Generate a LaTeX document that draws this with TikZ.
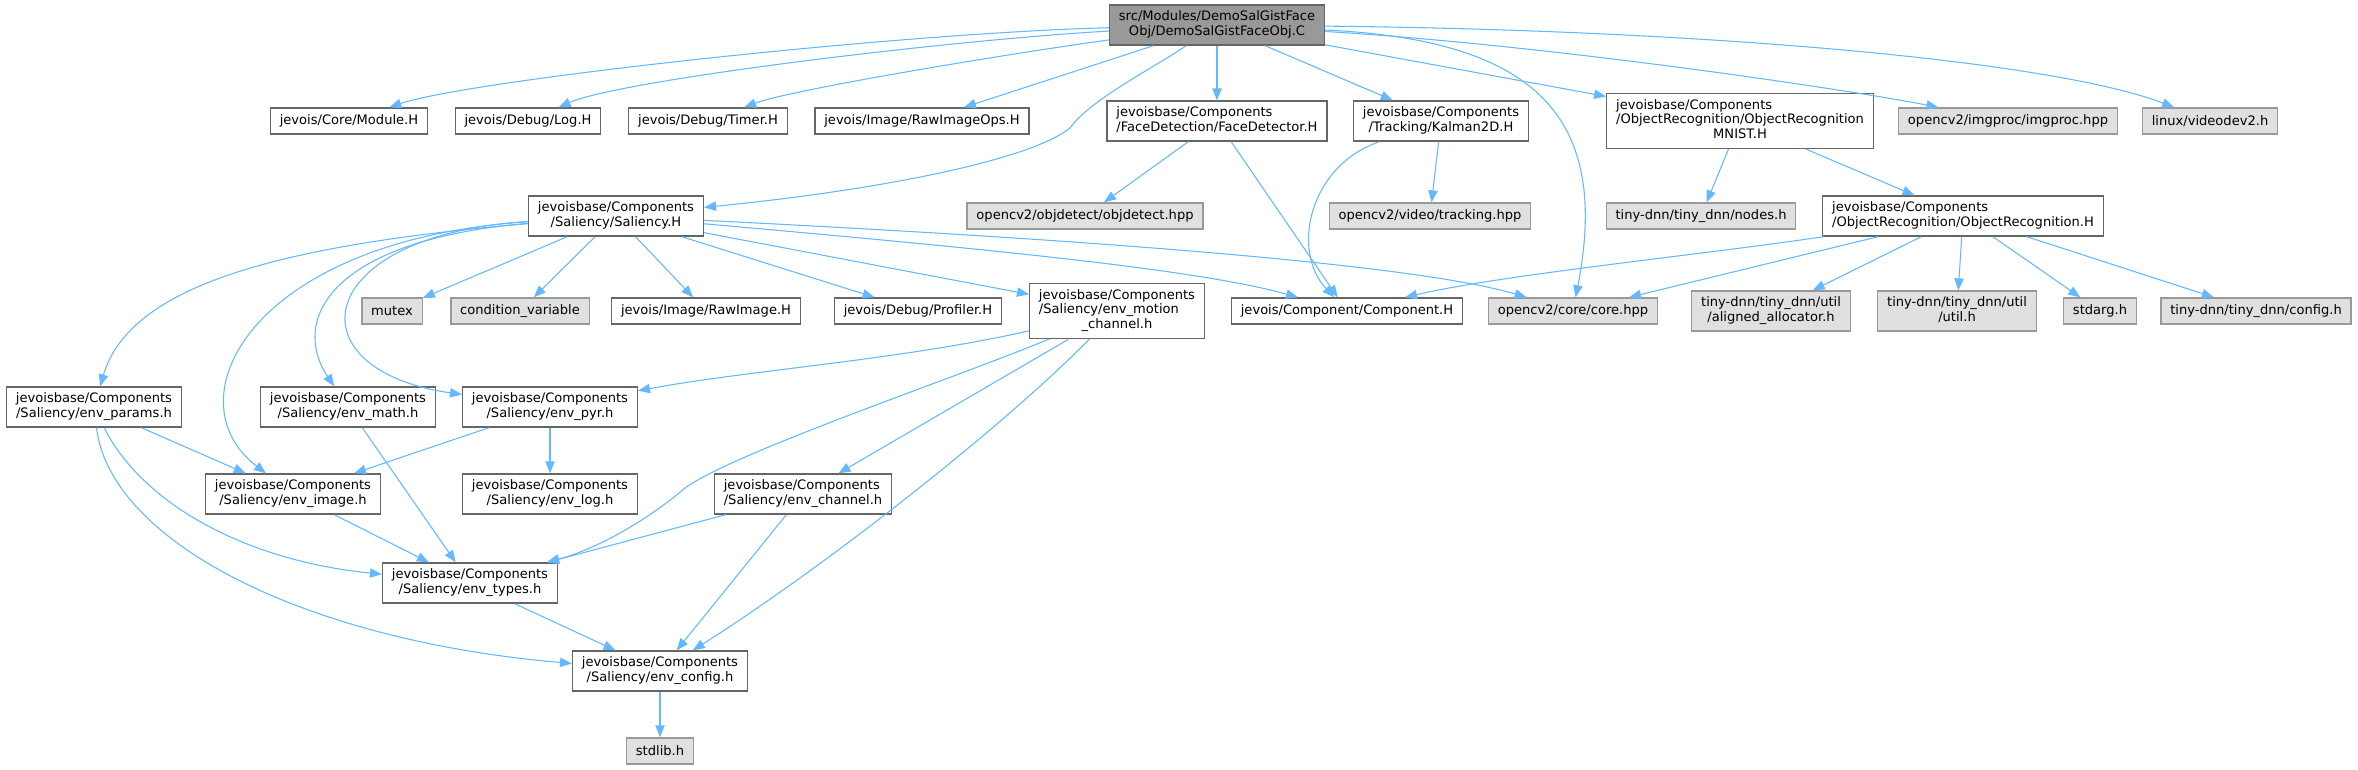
\documentclass[tikz,border=0pt]{standalone}
\usepackage{fontspec}
\setmainfont{DejaVu Sans}
\usetikzlibrary{arrows.meta}
\definecolor{edgeblue}{HTML}{63B8FF}
\definecolor{boxline}{HTML}{666666}
\definecolor{sysline}{HTML}{999999}
\definecolor{sysfill}{HTML}{E0E0E0}
\definecolor{rootfill}{HTML}{999999}
\newcommand{\twolines}[2]{\begin{tabular}{@{}l@{}}#1\\\multicolumn{1}{@{}c@{}}{#2}\end{tabular}}
\newcommand{\threelines}[3]{\begin{tabular}{@{}l@{}}#1\\#2\\\multicolumn{1}{@{}c@{}}{#3}\end{tabular}}

\begin{document}
\begin{tikzpicture}[x=0.75pt,y=-0.75pt,
        filebox/.style={draw=boxline,fill=white,line width=1pt,inner xsep=7pt,inner ysep=4pt,minimum height=19.5pt,font=\fontsize{9.8pt}{11pt}\selectfont},
        sysbox/.style={filebox,draw=sysline,fill=sysfill},
        rootbox/.style={filebox,fill=rootfill},
        dep/.style={draw=edgeblue,line width=0.8pt,-{Triangle[length=9pt,width=7pt]}}]
            \useasboundingbox (0,0) rectangle (2358,769);
            \node[rootbox] (root) at (1217,25) {\twolines{src/Modules/DemoSalGistFace}{Obj/DemoSalGistFaceObj.C}};
            \node[filebox] (modH) at (349,121) {jevois/Core/Module.H};
            \node[filebox] (logH) at (528,121) {jevois/Debug/Log.H};
            \node[filebox] (timerH) at (708,121) {jevois/Debug/Timer.H};
            \node[filebox] (rawopsH) at (922,121) {jevois/Image/RawImageOps.H};
            \node[filebox] (faceH) at (1217,121) {\twolines{jevoisbase/Components}{/FaceDetection/FaceDetector.H}};
            \node[filebox] (kalmanH) at (1441,121) {\twolines{jevoisbase/Components}{/Tracking/Kalman2D.H}};
            \node[filebox] (mnistH) at (1740,121) {\threelines{jevoisbase/Components}{/ObjectRecognition/ObjectRecognition}{MNIST.H}};
            \node[sysbox] (imgproc) at (2008,121) {opencv2/imgproc/imgproc.hpp};
            \node[sysbox] (videodev) at (2210,121) {linux/videodev2.h};
            \node[filebox] (salH) at (616,216) {\twolines{jevoisbase/Components}{/Saliency/Saliency.H}};
            \node[sysbox] (objdetect) at (1085,216) {opencv2/objdetect/objdetect.hpp};
            \node[sysbox] (tracking) at (1430,216) {opencv2/video/tracking.hpp};
            \node[sysbox] (nodesh) at (1701,216) {tiny-dnn/tiny\_dnn/nodes.h};
            \node[filebox] (objrecH) at (1963,216) {\twolines{jevoisbase/Components}{/ObjectRecognition/ObjectRecognition.H}};
            \node[sysbox] (mutex) at (392,311) {mutex};
            \node[sysbox] (condvar) at (520,311) {condition\_variable};
            \node[filebox] (rawimgH) at (706,311) {jevois/Image/RawImage.H};
            \node[filebox] (profH) at (918,311) {jevois/Debug/Profiler.H};
            \node[filebox] (motionh) at (1117,311) {\threelines{jevoisbase/Components}{/Saliency/env\_motion}{\_channel.h}};
            \node[filebox] (compH) at (1347,311) {jevois/Component/Component.H};
            \node[sysbox] (corehpp) at (1573,311) {opencv2/core/core.hpp};
            \node[sysbox] (alloch) at (1771,311) {\twolines{tiny-dnn/tiny\_dnn/util}{/aligned\_allocator.h}};
            \node[sysbox] (utilh) at (1957,311) {\twolines{tiny-dnn/tiny\_dnn/util}{/util.h}};
            \node[sysbox] (stdargh) at (2100,311) {stdarg.h};
            \node[sysbox] (confh) at (2256,311) {tiny-dnn/tiny\_dnn/config.h};
            \node[filebox] (paramsh) at (94,407) {\twolines{jevoisbase/Components}{/Saliency/env\_params.h}};
            \node[filebox] (mathh) at (348,407) {\twolines{jevoisbase/Components}{/Saliency/env\_math.h}};
            \node[filebox] (pyrh) at (550,407) {\twolines{jevoisbase/Components}{/Saliency/env\_pyr.h}};
            \node[filebox] (imageh) at (293,494) {\twolines{jevoisbase/Components}{/Saliency/env\_image.h}};
            \node[filebox] (logh) at (550,494) {\twolines{jevoisbase/Components}{/Saliency/env\_log.h}};
            \node[filebox] (chanh) at (803,494) {\twolines{jevoisbase/Components}{/Saliency/env\_channel.h}};
            \node[filebox] (typesh) at (470,583) {\twolines{jevoisbase/Components}{/Saliency/env\_types.h}};
            \node[filebox] (configh) at (660,671) {\twolines{jevoisbase/Components}{/Saliency/env\_config.h}};
            \node[sysbox] (stdlibh) at (660,751) {stdlib.h};
            \draw[dep] (root) .. controls (900,33) and (470,80) .. (modH);
            \draw[dep] (root) .. controls (950,40) and (620,80) .. (logH);
            \draw[dep] (root) .. controls (1000,55) and (790,90) .. (timerH);
            \draw[dep] (root) -- (rawopsH);
            \draw[dep] (root) .. controls (1150,70) and (1090,100) .. (1070,128) .. controls (1030,160) and (880,190) .. (salH);
            \draw[dep] (root) -- (faceH);
            \draw[dep] (root) -- (kalmanH);
            \draw[dep] (root) -- (mnistH);
            \draw[dep] (root) .. controls (1540,40) and (1610,120) .. (corehpp);
            \draw[dep] (root) .. controls (1550,45) and (1850,90) .. (imgproc);
            \draw[dep] (root) .. controls (1700,30) and (2050,60) .. (videodev);
            \draw[dep] (faceH) -- (objdetect);
            \draw[dep] (faceH) -- (compH);
            \draw[dep] (kalmanH) -- (tracking);
            \draw[dep] (kalmanH) .. controls (1310,165) and (1290,250) .. (compH);
            \draw[dep] (mnistH) -- (nodesh);
            \draw[dep] (mnistH) -- (objrecH);
            \draw[dep] (objrecH) .. controls (1700,255) and (1500,275) .. (compH);
            \draw[dep] (objrecH) -- (corehpp);
            \draw[dep] (objrecH) -- (alloch);
            \draw[dep] (objrecH) -- (utilh);
            \draw[dep] (objrecH) -- (stdargh);
            \draw[dep] (objrecH) -- (confh);
            \draw[dep] (salH) .. controls (280,245) and (130,285) .. (paramsh);
            \draw[dep] (salH) .. controls (250,240) and (170,400) .. (imageh);
            \draw[dep] (salH) .. controls (330,240) and (290,320) .. (mathh);
            \draw[dep] (salH) .. controls (310,235) and (290,370) .. (pyrh);
            \draw[dep] (salH) -- (mutex);
            \draw[dep] (salH) -- (condvar);
            \draw[dep] (salH) -- (rawimgH);
            \draw[dep] (salH) -- (profH);
            \draw[dep] (salH) -- (motionh);
            \draw[dep] (salH) .. controls (1000,250) and (1200,270) .. (compH);
            \draw[dep] (salH) .. controls (1000,235) and (1400,260) .. (corehpp);
            \draw[dep] (motionh) .. controls (900,360) and (750,370) .. (pyrh);
            \draw[dep] (motionh) .. controls (950,380) and (735,452) .. (685,488) .. controls (650,518) and (600,548) .. (typesh);
            \draw[dep] (motionh) -- (chanh);
            \draw[dep] (motionh) .. controls (1000,430) and (820,570) .. (configh);
            \draw[dep] (paramsh) -- (imageh);
            \draw[dep] (paramsh) .. controls (140,500) and (240,560) .. (typesh);
            \draw[dep] (paramsh) .. controls (110,540) and (300,640) .. (configh);
            \draw[dep] (mathh) -- (typesh);
            \draw[dep] (pyrh) -- (imageh);
            \draw[dep] (pyrh) -- (logh);
            \draw[dep] (imageh) -- (typesh);
            \draw[dep] (chanh) -- (typesh);
            \draw[dep] (chanh) -- (configh);
            \draw[dep] (typesh) -- (configh);
            \draw[dep] (configh) -- (stdlibh);
        \end{tikzpicture}
\end{document}
